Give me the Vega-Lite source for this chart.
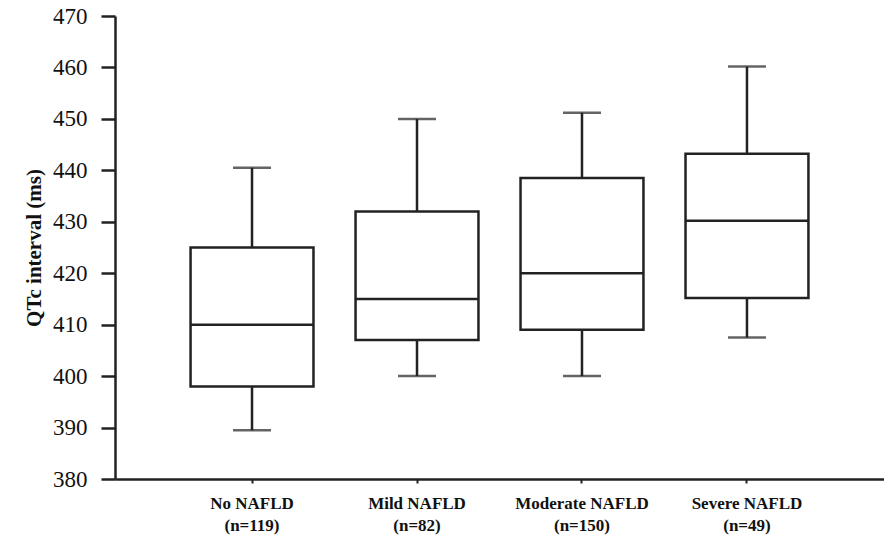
{
  "$schema": "https://vega.github.io/schema/vega-lite/v6.json",
  "width": 769,
  "height": 463,
  "autosize": "none",
  "padding": {"left": 115, "top": 16, "right": 0, "bottom": 65},
  "background": "white",
  "config": {"view": {"stroke": null}},
  "data": {
    "values": [
      {"group": "No NAFLD|(n=119)", "lower": 389.5, "q1": 398, "median": 410, "q3": 425, "upper": 440.5},
      {"group": "Mild NAFLD|(n=82)", "lower": 400, "q1": 407, "median": 415, "q3": 432, "upper": 450},
      {"group": "Moderate NAFLD|(n=150)", "lower": 400, "q1": 409, "median": 420, "q3": 438.5, "upper": 451.2},
      {"group": "Severe NAFLD|(n=49)", "lower": 407.5, "q1": 415.2, "median": 430.2, "q3": 443.2, "upper": 460.2}
    ]
  },
  "encoding": {
    "x": {
      "field": "group",
      "type": "nominal",
      "sort": null,
      "scale": {"paddingInner": 0.255, "paddingOuter": 0.458},
      "axis": {
        "title": null,
        "labelAngle": 0,
        "labelExpr": "split(datum.label, '|')",
        "labelFont": "Liberation Serif",
        "labelFontWeight": "bold",
        "labelFontSize": 17,
        "labelColor": "#111",
        "labelLineHeight": 22,
        "labelPadding": 12,
        "domainColor": "#222",
        "domainWidth": 2.5,
        "tickColor": "#222",
        "tickSize": 4,
        "tickWidth": 2
      }
    }
  },
  "layer": [
    {
      "mark": {"type": "rule", "color": "#222", "strokeWidth": 2.5},
      "encoding": {
        "y": {
          "field": "lower",
          "type": "quantitative",
          "scale": {"domain": [380, 470], "nice": false, "zero": false},
          "axis": {
            "title": "QTc interval (ms)",
            "titleFont": "Liberation Serif",
            "titleFontWeight": "bold",
            "titleFontSize": 21,
            "titleColor": "#111",
            "titlePadding": 8,
            "values": [380, 385, 390, 395, 400, 405, 410, 415, 420, 425, 430, 435, 440, 445, 450, 455, 460, 465, 470],
            "labelExpr": "datum.value % 10 === 0 ? datum.label : ''",
            "labelFont": "Liberation Serif",
            "labelFontSize": 23,
            "labelColor": "#111",
            "labelPadding": 14,
            "grid": false,
            "domainColor": "#222",
            "domainWidth": 2.5,
            "tickColor": "#222",
            "tickSize": {"condition": {"test": "datum.value % 10 === 0", "value": 14}, "value": 6},
            "tickWidth": {"condition": {"test": "datum.value % 10 === 0", "value": 2.5}, "value": 2}
          }
        },
        "y2": {"field": "upper"}
      }
    },
    {
      "mark": {"type": "bar", "fill": "white", "stroke": "#222", "strokeWidth": 2.5},
      "encoding": {
        "y": {"field": "q1", "type": "quantitative"},
        "y2": {"field": "q3"}
      }
    },
    {
      "mark": {"type": "bar", "fill": "white", "stroke": "#222", "strokeWidth": 2.5},
      "encoding": {
        "y": {"field": "median", "type": "quantitative"},
        "y2": {"field": "median"}
      }
    },
    {
      "mark": {"type": "tick", "color": "#222", "thickness": 2.5, "size": 38},
      "encoding": {
        "y": {"field": "lower", "type": "quantitative"}
      }
    },
    {
      "mark": {"type": "tick", "color": "#222", "thickness": 2.5, "size": 38},
      "encoding": {
        "y": {"field": "upper", "type": "quantitative"}
      }
    }
  ]
}
